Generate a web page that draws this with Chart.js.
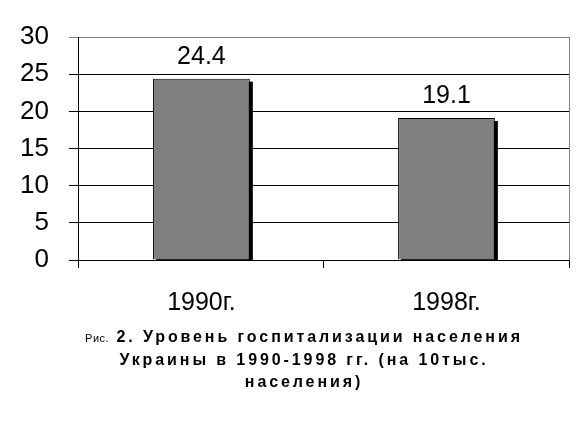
<!DOCTYPE html>
<html>
<head>
<meta charset="utf-8">
<script src="https://cdn.jsdelivr.net/npm/chart.js@4/dist/chart.umd.min.js"></script>
<style>
  body { margin: 0; background: #fff; }
  #wrap { position: relative; width: 587px; height: 431px; }
  #caption {
    position: absolute; left: 26px; width: 556px; top: 326px;
    text-align: center; font-family: "Liberation Sans", Arial, sans-serif;
    font-weight: bold; font-size: 16px; letter-spacing: 2.9px; line-height: 22px; color: #000;
  }
  #caption .small { font-size: 11px; font-weight: normal; letter-spacing: 0.5px; }
</style>
</head>
<body>
<div id="wrap">
  <canvas id="hospChart" width="587" height="431"></canvas>
  <div id="caption"><span class="small">Рис.</span> 2. Уровень госпитализации населения<br>Украины в 1990-1998 гг. (на 10тыс.<br>населения)</div>
</div>
<script>
  const years = ['1990г.', '1998г.'];
  const rates = [24.4, 19.1];
  const yTicks = [0, 5, 10, 15, 20, 25, 30];

  const FONT = '"Liberation Sans", Arial, sans-serif';

  // black drop shadow behind each bar + plot border + value labels
  const barExtras = {
    id: 'barExtras',
    beforeDatasetsDraw(chart) {
      const c = chart.ctx;
      const a = chart.chartArea;
      c.save();
      c.beginPath();
      c.rect(a.left, a.top, a.right - a.left, a.bottom - a.top);
      c.clip();
      c.fillStyle = '#000';
      chart.getDatasetMeta(0).data.forEach(bar => {
        const p = bar.getProps(['x', 'y', 'base', 'width'], true);
        c.fillRect(p.x - p.width / 2 + 3, p.y + 3, p.width, p.base - p.y);
      });
      c.restore();
    },
    afterDatasetsDraw(chart) {
      const c = chart.ctx;
      const a = chart.chartArea;
      c.save();
      c.strokeStyle = '#808080';
      c.lineWidth = 1;
      c.beginPath();
      c.moveTo(Math.round(a.right) + 0.5, a.top);
      c.lineTo(Math.round(a.right) + 0.5, a.bottom);
      c.stroke();
      c.fillStyle = '#000';
      c.font = '25px ' + FONT;
      c.textAlign = 'center';
      c.textBaseline = 'middle';
      chart.getDatasetMeta(0).data.forEach((bar, i) => {
        c.fillText(rates[i].toFixed(1), bar.x, bar.y - 22);
      });
      c.restore();
    }
  };

  const ctx = document.getElementById('hospChart').getContext('2d');
  new Chart(ctx, {
    type: 'bar',
    data: {
      labels: years,
      datasets: [{
        data: rates,
        backgroundColor: '#808080',
        borderColor: '#000',
        borderWidth: 1,
        categoryPercentage: 1,
        barPercentage: 0.395
      }]
    },
    options: {
      responsive: false,
      animation: false,
      layout: { padding: { left: 0, top: 37, right: 18, bottom: 93 } },
      plugins: { legend: { display: false }, tooltip: { enabled: false } },
      scales: {
        x: {
          grid: { drawOnChartArea: false, color: '#000', tickLength: 8, offset: true },
          border: { color: '#000' },
          ticks: { color: '#000', padding: 20, font: { family: FONT, size: 25 } }
        },
        y: {
          min: 0, max: 30,
          afterBuildTicks: (axis) => { axis.ticks = yTicks.map(v => ({ value: v })); },
          grid: {
            color: (c) => c.tick && c.tick.value === 30 ? '#808080' : '#000',
            tickLength: 10
          },
          border: { color: '#000' },
          ticks: { color: '#000', padding: 20, font: { family: FONT, size: 26 } }
        }
      }
    },
    plugins: [barExtras]
  });
</script>
</body>
</html>
